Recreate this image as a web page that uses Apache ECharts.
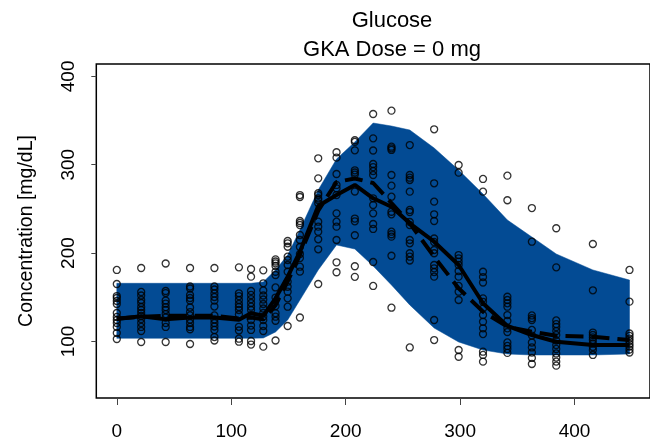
<!DOCTYPE html>
<html>
<head>
<meta charset="utf-8">
<script src="https://cdn.jsdelivr.net/npm/echarts@6/dist/echarts.min.js"></script>
<style>
  html, body { margin: 0; padding: 0; background: #fff; }
  #chart { width: 650px; height: 447px; }
</style>
</head>
<body>
<div id="chart"></div>
<script>
// Sampling times (min)
const times = [0, 21.3, 42.7, 64, 85.3, 106.7, 117.3, 128, 138.7, 149.3, 160, 176, 192,
  208, 224, 240, 256, 277.3, 298.7, 320, 341.3, 362.7, 384, 416, 448];

// Simulated prediction interval (lower / upper bound)
const piLower = [103.6, 103.6, 103.6, 103.6, 103.6, 103.6, 103.6, 103.9, 110.7, 124.3, 146.9, 180.9, 209.2,
  204.6, 185.4, 163.9, 141.3, 115.2, 99.4, 90.3, 85.8, 84.7, 84.7, 84.7, 85.8];
const piUpper = [165.8, 165.8, 165.8, 165.8, 165.8, 165.8, 165.8, 167.3, 180.9, 197.8, 226.1, 271.4, 306.5,
  325.7, 347.2, 343.8, 339.3, 318.9, 294.0, 266.9, 237.4, 218.2, 199.0, 180.9, 169.5];

// Simulated median (solid) and observed median (dashed)
const simMedian = [125.5, 128.5, 125, 127, 127, 124.5, 131.9, 129.1, 148.8, 173.3, 201.6, 253.3, 265.7,
  277.1, 262.0, 252.5, 233.7, 212.9, 186.5, 143.2, 117.5, 107.3, 99.7, 96.0, 96.0];
const obsMedian = [126, 128, 129, 129, 129, 126, 127, 125, 141, 168, 198, 248, 280.5,
  284.4, 279.3, 256.7, 233.7, 195.9, 160.2, 133.7, 116.7, 111.0, 106.5, 105.4, 101.6];

// Observed glucose concentrations, one list per sampling time
const observed = [
  [180.9, 165.0, 151.4, 149.2, 145.8, 142.4, 132.2, 127.7, 124.3, 120.9, 116.4, 109.6, 102.8],
  [183.1, 156.0, 152.0, 146.9, 143.5, 139.0, 135.6, 132.2, 128.8, 125.4, 120.9, 116.4, 111.8, 99.4],
  [188.2, 157.1, 154.8, 146.3, 142.9, 138.9, 135.6, 131.0, 127.1, 120.9, 116.4, 99.4],
  [183.1, 162.2, 159.9, 152.6, 149.2, 146.3, 138.4, 133.3, 129.4, 124.8, 120.9, 116.4, 113.8, 97.1],
  [183.1, 162.2, 158.8, 154.3, 150.3, 146.3, 139.5, 129.4, 124.8, 120.9, 116.9, 113.0, 105.0, 101.1],
  [183.9, 154.5, 151.4, 146.9, 142.4, 139.0, 135.6, 130.5, 116.6, 112.4, 103.1, 99.7],
  [182.0, 173.3, 157.1, 152.6, 148.0, 143.5, 139.3, 135.6, 129.9, 124.3, 118.0, 113.0, 100.5, 96.5],
  [180.5, 165.8, 157.7, 152.0, 147.5, 142.4, 137.3, 132.2, 128.2, 124.3, 117.5, 111.8, 94.1],
  [192.9, 190.5, 188.4, 185.4, 178.9, 175.2, 161.1, 149.7, 140.1, 131.9, 128.0, 123.4, 101.1],
  [213.7, 211.1, 207.2, 195.9, 192.2, 186.5, 178.9, 167.6, 161.9, 156.3, 148.8, 139.3, 117.5],
  [265.7, 263.5, 236.3, 234.1, 231.8, 220.5, 214.8, 206.9, 199.0, 194.4, 184.6, 179.0, 127.1],
  [307.3, 284.6, 267.7, 265.7, 262.0, 260.1, 256.3, 235.5, 229.9, 224.2, 215.6, 204.3, 165.0],
  [314.1, 308.0, 289.5, 277.1, 273.3, 265.7, 245.0, 235.5, 229.9, 214.8, 189.6, 178.3],
  [327.7, 325.8, 316.3, 293.7, 291.2, 288.9, 269.7, 239.1, 236.0, 220.2, 185.1, 173.1],
  [357.4, 329.9, 316.1, 300.8, 297.4, 292.9, 288.4, 262.0, 254.4, 245.0, 232.9, 227.3, 189.9, 162.8],
  [361.2, 320.4, 318.6, 316.7, 288.4, 276.3, 263.8, 246.8, 243.9, 224.2, 221.3, 218.6, 197.0, 138.2],
  [322.3, 288.4, 285.3, 282.7, 269.5, 248.8, 246.5, 235.2, 231.8, 214.8, 211.1, 199.8, 195.9, 191.6, 93.2],
  [340.1, 279.0, 258.2, 243.9, 236.3, 216.5, 212.6, 203.5, 199.8, 186.5, 182.8, 178.6, 173.3, 124.3, 101.6],
  [299.7, 291.0, 197.8, 194.1, 190.3, 186.5, 179.7, 173.3, 162.8, 156.3, 146.9, 90.3, 82.7],
  [283.9, 269.5, 178.9, 172.9, 166.7, 148.8, 144.9, 137.2, 129.9, 122.3, 114.9, 108.4, 88.4, 84.7, 77.1],
  [287.6, 259.8, 150.6, 146.9, 143.2, 139.3, 129.9, 123.2, 114.9, 110.7, 98.9, 94.9, 91.5, 87.0],
  [251.0, 212.9, 129.4, 126.5, 124.3, 113.0, 106.7, 98.8, 93.2, 87.5, 81.3, 74.5],
  [228.1, 183.9, 123.8, 119.7, 116.4, 111.8, 107.3, 101.1, 96.0, 91.5, 86.4, 81.8, 77.1, 72.6],
  [210.3, 157.9, 110.1, 107.3, 104.5, 101.6, 97.7, 93.7, 90.3, 84.7],
  [180.9, 145.0, 109.0, 106.2, 103.3, 100.5, 97.1, 94.3, 90.9, 87.5]
];

// Axis ticks
const xTicks = [0, 100, 200, 300, 400];
const yTicks = [100, 200, 300, 400];

const FONT = "'Liberation Sans', Arial, Helvetica, sans-serif";
const BAND_BLUE = '#034b94';

const pairs = (xs, ys) => xs.map((x, i) => [x, ys[i]]);
const scatterData = [];
observed.forEach((col, i) => col.forEach(v => scatterData.push([times[i], v])));

// Prediction band: one polygon, upper edge left-to-right then lower edge back
const bandData = times.map((t, i) => [t, piLower[i], piUpper[i]]);
function renderBand(params, api) {
  if (params.dataIndex !== 0) return null;
  const pts = [];
  for (let i = 0; i < bandData.length; i++) pts.push(api.coord([bandData[i][0], bandData[i][2]]));
  for (let i = bandData.length - 1; i >= 0; i--) pts.push(api.coord([bandData[i][0], bandData[i][1]]));
  return {
    type: 'polygon',
    shape: { points: pts },
    style: { fill: BAND_BLUE, stroke: BAND_BLUE, lineWidth: 0.5 }
  };
}

const chart = echarts.init(document.getElementById('chart'), null, { renderer: 'canvas' });
chart.setOption({
  animation: false,
  backgroundColor: '#fff',
  title: [
    { text: 'Glucose', left: 387, top: 5, textAlign: 'center',
      textStyle: { fontFamily: FONT, fontSize: 22, fontWeight: 'normal', color: '#000' } },
    { text: 'GKA Dose = 0 mg', left: 387, top: 34, textAlign: 'center',
      textStyle: { fontFamily: FONT, fontSize: 22, fontWeight: 'normal', color: '#000' } }
  ],
  grid: {
    left: 96.3, top: 64, right: -6.3, bottom: 49,
    show: true, borderColor: '#000', borderWidth: 1.5, backgroundColor: 'transparent'
  },
  xAxis: {
    type: 'value', min: -17.92, max: 465.92,
    axisLine: { show: false, onZero: false },
    splitLine: { show: false },
    axisTick: { show: true, length: 7, customValues: xTicks, lineStyle: { color: '#444', width: 1 } },
    axisLabel: { customValues: xTicks, margin: 24, fontFamily: FONT, fontSize: 19, color: '#000' }
  },
  yAxis: {
    type: 'value', min: 36, max: 414,
    name: 'Concentration [mg/dL]', nameLocation: 'middle', nameGap: 60, nameRotate: 90,
    nameTextStyle: { fontFamily: FONT, fontSize: 19.5, color: '#000' },
    axisLine: { show: false, onZero: false },
    splitLine: { show: false },
    axisTick: { show: true, length: 5, customValues: yTicks, lineStyle: { color: '#444', width: 1 } },
    axisLabel: { customValues: yTicks, rotate: 90, margin: 18, fontFamily: FONT, fontSize: 19, color: '#000' }
  },
  series: [
    {
      name: 'PI', type: 'custom', data: bandData, renderItem: renderBand,
      encode: { x: 0, y: [1, 2] }, silent: true, z: 1
    },
    {
      name: 'Observed', type: 'scatter', data: scatterData,
      symbol: 'circle', symbolSize: 7,
      itemStyle: { color: 'rgba(0,0,0,0)', borderColor: '#000', borderWidth: 1.3 }, z: 3
    },
    {
      name: 'Simulated median', type: 'line', data: pairs(times, simMedian),
      symbol: 'none', lineStyle: { color: '#000', width: 4 }, z: 4
    },
    {
      name: 'Observed median', type: 'line', data: pairs(times, obsMedian),
      symbol: 'none', lineStyle: { color: '#000', width: 4, type: [18, 8] }, z: 4
    }
  ]
});
</script>
</body>
</html>
